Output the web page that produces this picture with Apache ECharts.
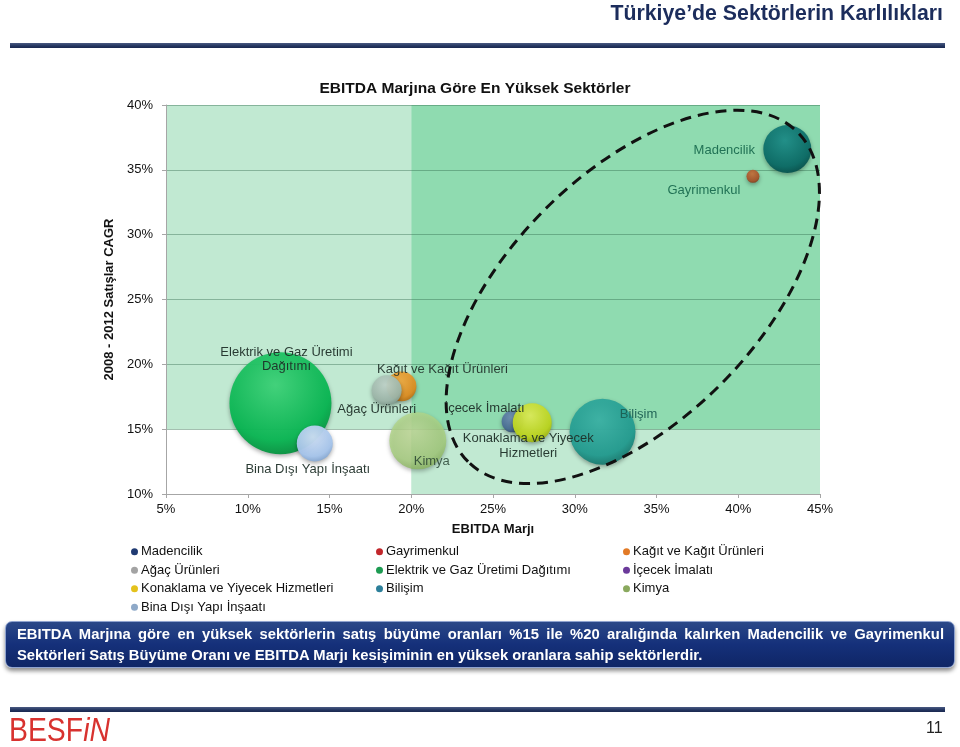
<!DOCTYPE html>
<html>
<head>
<meta charset="utf-8">
<script src="https://cdn.jsdelivr.net/npm/echarts@6/dist/echarts.min.js"></script>
<style>
  html, body { margin:0; padding:0; background:#fff; }
  #page { position:relative; width:960px; height:747px; overflow:hidden; font-family:"Liberation Sans", Arial, sans-serif; }
  #chart { position:absolute; left:0; top:0; width:960px; height:747px; }
  #slideTitle { position:absolute; right:17px; top:1px; font-size:21.3px; font-weight:bold; color:#1c2d5c; white-space:nowrap; }
  .rule { position:absolute; left:10px; width:935px; height:5px; background:linear-gradient(#4a5a82,#23345f 60%,#1a2850); }
  #box { position:absolute; left:5px; top:621px; width:950px; height:47px; border-radius:7px;
         background:linear-gradient(#2a4888,#15307a 50%,#0f2666); box-shadow:0 3px 4px rgba(0,0,0,0.45);
         border:1px solid #8fa3cf; box-sizing:border-box; }
  #box .l { position:absolute; left:11px; width:927px; color:#fff; font-weight:bold; font-size:14.8px; white-space:nowrap; }
  #l1 { top:4px; text-align:justify; text-align-last:justify; white-space:normal !important; }
  #l2 { top:25px; }
  #logo { position:absolute; left:9px; top:711px; color:#d8322f; font-size:33px; transform:scaleX(0.86); transform-origin:left top; white-space:nowrap; }
  #logo i { font-style:italic; }
  #pageNo { position:absolute; left:926px; top:719px; font-size:16px; color:#222; }
</style>
</head>
<body>
<div id="page">
  <div id="chart"></div>
  <div id="slideTitle">Türkiye’de Sektörlerin Karlılıkları</div>
  <div class="rule" style="top:43px"></div>
  <div id="box">
    <div id="l1" class="l">EBITDA Marjına göre en yüksek sektörlerin satış büyüme oranları %15 ile %20 aralığında kalırken Madencilik ve Gayrimenkul</div>
    <div id="l2" class="l">Sektörleri Satış Büyüme Oranı ve EBITDA Marjı kesişiminin en yüksek oranlara sahip sektörlerdir.</div>
  </div>
  <div class="rule" style="top:707px"></div>
  <div id="logo">BESF<i>iN</i></div>
  <div id="pageNo">11</div>
</div>
<script>
// ---------- DATA ----------
const sectors = ["Madencilik","Gayrimenkul","Kağıt ve Kağıt Ürünleri","Ağaç Ürünleri","Elektrik ve Gaz Üretimi Dağıtımı","İçecek İmalatı","Konaklama ve Yiyecek Hizmetleri","Bilişim","Kimya","Bina Dışı Yapı İnşaatı"];
const bubbleLabels = ["Madencilik","Gayrimenkul","Kağıt ve Kağıt Ürünleri","Ağaç Ürünleri","Elektrik ve Gaz Üretimi\nDağıtımı","İçecek İmalatı","Konaklama ve Yiyecek\nHizmetleri","Bilişim","Kimya","Bina Dışı Yapı İnşaatı"];
const ebitdaMargin = [43.0, 40.9, 19.4, 18.5, 12.0, 26.2, 27.4, 31.7, 20.4, 14.1];   // x, %
const salesCagr    = [36.6, 34.5, 18.3, 18.0, 17.0, 15.6, 15.5, 14.8, 14.1, 13.9];   // y, %
const bubbleValue  = [144, 10.5, 56, 56, 650, 30, 95, 272, 203, 81];                 // bubble size
const xTicks = [5, 10, 15, 20, 25, 30, 35, 40, 45];
const yTicks = [10, 15, 20, 25, 30, 35, 40];
const ebitdaThreshold = 20;
const cagrThreshold = 15;
const ellipseCenter = [33.55, 25.2];  // annotation centre in data units

// ---------- STYLE ----------
const bubbleColors = [
  ['#1f8f89','#0b6b66','#064c48'],
  ['#c2733e','#a4532a','#7a3a1a'],
  ['#f2ac40','#e08d1e','#b06a10'],
  ['#c0d4ca','#9db6a9','#7a9588'],
  ['#3fd47a','#08b652','#068a3c'],
  ['#7090b4','#4a6d94','#34506e'],
  ['#dcec5a','#bcd51e','#93a812'],
  ['#3cb3a6','#239c90','#177268'],
  ['#c4e09a','#a6cf7c','#84ae58'],
  ['#cfe0f6','#a6c5ec','#7fa1cc']
];
const bubbleOpacity = [0.95,0.95,0.92,0.95,0.95,0.95,0.95,0.95,0.8,0.95];
const legendColors = ['#1f3a72','#c2272b','#e27a26','#a3a3a3','#1d9b52','#6b3a9a','#e4c21c','#2c7f9a','#8aa95e','#8ea9c8'];
const labelOffsets = [[-63,1],[-49,14],[41,-17],[-10,19],[6,-44],[-28,-13],[-4,23],[36,-17],[14,21],[-7,26]];
const labelColors = ['#1b6d50','#1b6d50','#1f2f28','#1f2f28','#1f2f28','#1f2f28','#1f2f28','#1b5f52','#1f3a2a','#1f2f28'];

const chart = echarts.init(document.getElementById('chart'), null, {renderer:'canvas'});

const lightGreen = '#c1e9d2';
const darkGreen = '#8fdbb0';

const series = [{
  type:'scatter', name:'__bg', data:[], z:-1, silent:true,
  markArea:{ silent:true, z:-1,
    data:[
      [{xAxis:xTicks[0], yAxis:cagrThreshold, itemStyle:{color:lightGreen}}, {xAxis:ebitdaThreshold, yAxis:yTicks[yTicks.length-1]}],
      [{xAxis:ebitdaThreshold, yAxis:yTicks[0], itemStyle:{color:lightGreen}}, {xAxis:xTicks[xTicks.length-1], yAxis:cagrThreshold}],
      [{xAxis:ebitdaThreshold, yAxis:cagrThreshold, itemStyle:{color:darkGreen}}, {xAxis:xTicks[xTicks.length-1], yAxis:yTicks[yTicks.length-1]}]
    ]
  }
}];

sectors.forEach((name, i) => {
  const c = bubbleColors[i];
  series.push({
    type:'scatter', name:name, z:2,
    data:[[ebitdaMargin[i], salesCagr[i], bubbleValue[i]]],
    symbolSize: d => Math.sqrt(d[2]) * 4,
    itemStyle:{
      opacity: bubbleOpacity[i],
      color:{type:'radial', x:0.45, y:0.32, r:0.72, colorStops:[
        {offset:0, color:c[0]}, {offset:0.75, color:c[1]}, {offset:1, color:c[2]}]},
      shadowBlur:4, shadowColor:'rgba(0,0,0,0.35)', shadowOffsetY:2
    },
    label:{
      show:true, position:'inside', offset:labelOffsets[i],
      formatter: bubbleLabels[i], color:labelColors[i],
      fontFamily:'Liberation Sans', fontSize:13, lineHeight:14.5, align:'center'
    },
    emphasis:{disabled:true}
  });
});

function legendCol(names, left) {
  return {
    orient:'vertical', left:left, top:540, itemGap:5, itemWidth:7, itemHeight:7,
    icon:'circle', selectedMode:false,
    textStyle:{fontFamily:'Liberation Sans', fontSize:13, color:'#111', lineHeight:13.5, padding:[0,0,0,-2]},
    data: names.map(n => ({name:n, itemStyle:{color:legendColors[sectors.indexOf(n)], opacity:1, shadowBlur:0, borderWidth:0}}))
  };
}

chart.setOption({
  animation:false,
  title:{
    text:'EBITDA Marjına Göre En Yüksek Sektörler', left:470, top:76, textAlign:'center',
    textStyle:{fontFamily:'Liberation Sans', fontWeight:'bold', fontSize:15.5, color:'#111'}
  },
  grid:{left:166, right:140, top:105, bottom:253},
  xAxis:{
    type:'value', min:xTicks[0], max:xTicks[xTicks.length-1], interval:xTicks[1]-xTicks[0],
    name:'EBITDA Marjı', nameLocation:'middle', nameGap:29,
    nameTextStyle:{fontFamily:'Liberation Sans', fontWeight:'bold', fontSize:13, color:'#111'},
    axisLine:{lineStyle:{color:'#a6a6a6'}},
    axisTick:{show:true, length:4, lineStyle:{color:'#a6a6a6'}},
    axisLabel:{formatter:'{value}%', fontFamily:'Liberation Sans', fontSize:13, color:'#111', margin:9},
    splitLine:{show:false}
  },
  yAxis:{
    type:'value', min:yTicks[0], max:yTicks[yTicks.length-1], interval:yTicks[1]-yTicks[0],
    name:'2008 - 2012 Satışlar CAGR', nameLocation:'middle', nameGap:37,
    nameTextStyle:{fontFamily:'Liberation Sans', fontWeight:'bold', fontSize:13, color:'#111'},
    axisLine:{show:true, lineStyle:{color:'#a6a6a6'}},
    axisTick:{show:true, length:4, lineStyle:{color:'#a6a6a6'}},
    axisLabel:{formatter:'{value}%', fontFamily:'Liberation Sans', fontSize:13, color:'#111', margin:13},
    splitLine:{show:true, lineStyle:{color:'rgba(40,95,65,0.38)', width:1}}
  },
  legend:[
    legendCol([sectors[0], sectors[3], sectors[6], sectors[9]], 126),
    legendCol([sectors[1], sectors[4], sectors[7]], 371),
    legendCol([sectors[2], sectors[5], sectors[8]], 618)
  ],
  series:series
});

const ctr = chart.convertToPixel({gridIndex:0}, ellipseCenter);
chart.setOption({
  graphic:[{
    type:'ellipse', x:ctr[0], y:ctr[1], rotation:Math.PI/4, z:100, silent:true,
    shape:{cx:0, cy:0, rx:233, ry:124},
    style:{fill:null, stroke:'#111', lineWidth:3, lineDash:[11,7]}
  }]
});
</script>
</body>
</html>
